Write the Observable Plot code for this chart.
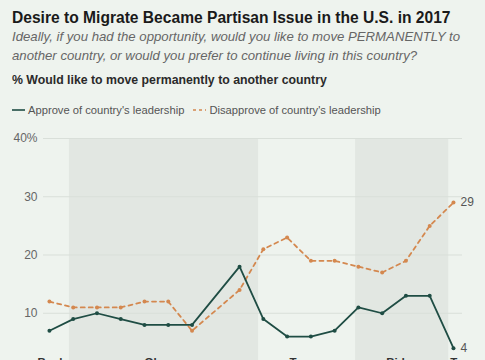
<!DOCTYPE html>
<html>
<head>
<meta charset="utf-8">
<script src="https://cdn.jsdelivr.net/npm/d3@7"></script>
<script src="https://cdn.jsdelivr.net/npm/@observablehq/plot@0.6"></script>
<style>
  html, body { margin: 0; padding: 0; background: #eef3ee; width: 485px; height: 360px; overflow: hidden; }
  body { font-family: "Liberation Sans", Arial, sans-serif; position: relative; }
  #head { position: relative; height: 125px; }
  #title { position: absolute; left: 12px; top: 8px; font-size: 15.6px; font-weight: bold; color: #1a1a1a; line-height: 20px; white-space: nowrap; }
  #sub { position: absolute; left: 12px; top: 27px; font-size: 13.2px; font-style: italic; color: #666; line-height: 19px; }
  #hdr { position: absolute; left: 12px; top: 72px; font-size: 12.3px; font-weight: bold; color: #2a2a2a; line-height: 16px; white-space: nowrap; }
  #legend { position: absolute; left: 12px; top: 103px; font-size: 11.2px; color: #555; line-height: 14px; white-space: nowrap; display: flex; align-items: center; }
  #legend span.item { display: inline-flex; align-items: center; margin-right: 9px; }
  #legend svg { margin-right: 3px; }
</style>
</head>
<body>
<div id="head">
  <div id="title">Desire to Migrate Became Partisan Issue in the U.S. in 2017</div>
  <div id="sub">Ideally, if you had the opportunity, would you like to move PERMANENTLY to<br>another country, or would you prefer to continue living in this country?</div>
  <div id="hdr">% Would like to move permanently to another country</div>
  <div id="legend"></div>
</div>
<div id="chart"></div>
<script>
const years      = [2008, 2009, 2010, 2011, 2012, 2013, 2014, 2016, 2017, 2018, 2019, 2020, 2021, 2022, 2023, 2024, 2025];
const approve    = [7, 9, 10, 9, 8, 8, 8, 18, 9, 6, 6, 7, 11, 10, 13, 13, 4];
const disapprove = [12, 11, 11, 11, 12, 12, 7, 14, 21, 23, 19, 19, 18, 17, 19, 25, 29];
const seriesNames = ["Approve of country's leadership", "Disapprove of country's leadership"];
const bandStart  = [2008.84, 2020.88];
const bandEnd    = [2016.80, 2024.80];
const presidents = ["Bush", "Obama", "Trump", "Biden", "Trump"];
const presX      = [2008.1, 2012.82, 2018.84, 2022.84, 2025.6];
const yTicks     = [10, 20, 30, 40];

const green = "#1f4d44", orange = "#d4884f";

// legend
const lg = document.getElementById("legend");
lg.innerHTML =
  `<span class="item"><svg width="13" height="6"><line x1="0" y1="3" x2="13" y2="3" stroke="${green}" stroke-width="1.6"/></svg>${seriesNames[0]}</span>` +
  `<span class="item"><svg width="13" height="6"><line x1="0" y1="3" x2="13" y2="3" stroke="${orange}" stroke-width="1.6" stroke-dasharray="3,3"/></svg>${seriesNames[1]}</span>`;

const rows = [];
years.forEach((y, i) => {
  rows.push({year: y, value: approve[i], s: seriesNames[0]});
  rows.push({year: y, value: disapprove[i], s: seriesNames[1]});
});
const bands = bandStart.map((b, i) => ({x1: b, x2: bandEnd[i]}));
const pres = presidents.map((p, i) => ({name: p, x: presX[i]}));
const last = years.length - 1;
const ends = [
  {year: years[last], value: disapprove[last]},
  {year: years[last], value: approve[last]}
];

const chart = Plot.plot({
  width: 485,
  height: 250,
  marginTop: 13,
  marginBottom: 4,
  marginLeft: 43,
  marginRight: 23,
  style: {background: "transparent", fontFamily: "Liberation Sans, Arial, sans-serif"},
  x: {domain: [2007.75, 2025.38], axis: null},
  y: {domain: [0, 40], axis: null},
  marks: [
    Plot.rect(bands, {x1: "x1", x2: "x2", y1: 0, y2: 40, fill: "#e2e7e2"}),
    Plot.ruleY(yTicks, {stroke: "#d9dfd9", strokeWidth: 1}),
    Plot.axisY({ticks: yTicks, tickSize: 0, tickPadding: 6, fontSize: 12, fill: "#666", tickFormat: d => d === 40 ? "40%" : String(d), label: null}),
    Plot.line(rows.filter(d => d.s === seriesNames[1]), {x: "year", y: "value", stroke: orange, strokeWidth: 1.8, strokeDasharray: "4,4"}),
    Plot.dot(rows.filter(d => d.s === seriesNames[1]), {x: "year", y: "value", fill: orange, r: 2}),
    Plot.line(rows.filter(d => d.s === seriesNames[0]), {x: "year", y: "value", stroke: green, strokeWidth: 1.8}),
    Plot.dot(rows.filter(d => d.s === seriesNames[0]), {x: "year", y: "value", fill: green, r: 2}),
    Plot.text(ends, {x: "year", y: "value", text: d => String(d.value), dx: 7, textAnchor: "start", fontSize: 12, fill: "#555"}),
    Plot.text(pres, {x: "x", y: 0, text: "name", dy: -14, lineAnchor: "top", fontSize: 11.5, fontWeight: "bold", fill: "#333"})
  ]
});
document.getElementById("chart").appendChild(chart);
</script>
</body>
</html>
